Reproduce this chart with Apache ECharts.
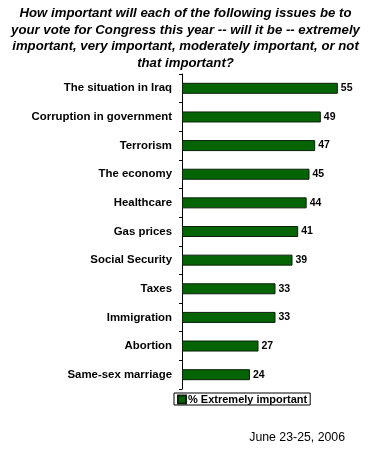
<!DOCTYPE html>
<html>
<head>
<meta charset="utf-8">
<script src="https://cdn.jsdelivr.net/npm/echarts@6/dist/echarts.min.js"></script>
<style>
html,body{margin:0;padding:0;background:#fff;}
#c{width:371px;height:452px;}
</style>
</head>
<body>
<div id="c"></div>
<script>
var categories = ["The situation in Iraq","Corruption in government","Terrorism","The economy","Healthcare","Gas prices","Social Security","Taxes","Immigration","Abortion","Same-sex marriage"];
var values = [55,49,47,45,44,41,39,33,33,27,24];
var seriesName = "% Extremely important";
var titleText = "How important will each of the following issues be to\nyour vote for Congress this year -- will it be -- extremely\nimportant, very important, moderately important, or not\nthat important?";
var dateText = "June 23-25, 2006";

var chart = echarts.init(document.getElementById('c'), null, {renderer:'canvas'});
chart.setOption({
  animation:false,
  backgroundColor:'#ffffff',
  title:[{
    text:titleText,
    left:'center', top:0,
    textStyle:{fontFamily:'Liberation Sans, Arial', fontSize:13.2, fontWeight:'bold', fontStyle:'italic', color:'#000', lineHeight:16.7}
  },{
    text:dateText,
    right:21, top:427,
    textStyle:{fontFamily:'Liberation Sans, Arial', fontSize:12.3, fontWeight:'normal', color:'#000'}
  }],
  legend:{
    data:[seriesName],
    left:174, top:393,
    itemWidth:8, itemHeight:8, itemGap:2,
    padding:[1,3,0,3],
    borderColor:'#000', borderWidth:1,
    icon:'rect',
    textStyle:{fontFamily:'Liberation Sans, Arial', fontSize:11, fontWeight:'bold', color:'#000', padding:[0,0,0,-3]}
  },
  grid:{left:182, top:74, width:170, height:315, containLabel:false},
  xAxis:{type:'value', min:0, max:60, show:false},
  yAxis:{
    type:'category', data:categories, inverse:true,
    axisLine:{show:true, lineStyle:{color:'#000', width:1}},
    axisTick:{show:true, length:3, lineStyle:{color:'#000'}},
    axisLabel:{fontFamily:'Liberation Sans, Arial', fontSize:11.4, fontWeight:'bold', color:'#000', margin:10},
    splitLine:{show:false}
  },
  series:[{
    name:seriesName, type:'bar', data:values, barWidth:11,
    itemStyle:{color:'#056505', borderColor:'#0a200a', borderWidth:1},
    label:{show:true, position:'right', distance:3, fontFamily:'Liberation Sans, Arial', fontSize:10.5, fontWeight:'bold', color:'#000'}
  }]
});
</script>
</body>
</html>
